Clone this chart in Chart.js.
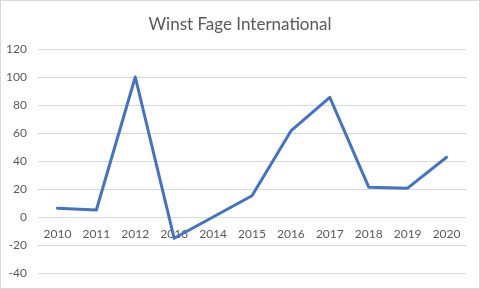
<!DOCTYPE html>
<html>
<head>
<meta charset="utf-8">
<script src="https://cdn.jsdelivr.net/npm/chart.js@4/dist/chart.umd.min.js"></script>
<style>
  html, body { margin: 0; padding: 0; background: #fff; }
  #wrap { width: 480px; height: 289px; position: relative; }
  canvas { display: block; }
</style>
</head>
<body>
<div id="wrap"><canvas id="c" width="480" height="289"></canvas></div>
<script>
const chartTitle = "Winst Fage International";
const years = ["2010","2011","2012","2013","2014","2015","2016","2017","2018","2019","2020"];
const profit = [6.3, 5, 100, -15.2, 0, 15.2, 61.5, 85.5, 21.3, 20.6, 42.7];
const yMin = -40, yMax = 120, yStep = 20;

const FONT = "Lato";
const borderPlugin = {
  id: 'outerBorder',
  afterDraw(chart) {
    const ctx = chart.ctx;
    ctx.save();
    ctx.strokeStyle = '#d9d9d9';
    ctx.lineWidth = 1;
    ctx.strokeRect(0.5, 0.5, chart.width - 1, chart.height - 1);
    ctx.restore();
  }
};

new Chart(document.getElementById('c'), {
  type: 'line',
  data: {
    labels: years,
    datasets: [{
      label: chartTitle,
      data: profit,
      borderColor: '#4472C4',
      borderWidth: 3,
      pointRadius: 0,
      tension: 0,
      fill: false,
      borderCapStyle: 'round',
      borderJoinStyle: 'round'
    }]
  },
  options: {
    responsive: false,
    animation: false,
    devicePixelRatio: 1,
    layout: { padding: { left: 0, right: 0, top: 0, bottom: 16 } },
    plugins: {
      legend: { display: false },
      tooltip: { enabled: false },
      title: {
        display: true,
        text: chartTitle,
        color: '#595959',
        font: { family: FONT, size: 17, weight: 'normal', lineHeight: 1.2 },
        padding: { top: 14, bottom: 14.6 }
      }
    },
    scales: {
      x: {
        position: { y: 0 },
        offset: true,
        grid: { display: false, drawTicks: false },
        border: { display: false },
        ticks: {
          color: '#595959',
          font: { family: FONT, size: 12 },
          padding: 10,
          maxRotation: 0,
          autoSkip: false
        },
        afterFit(scale) {
          scale.paddingRight = 14;
          scale.paddingLeft = 0;
        }
      },
      y: {
        min: yMin,
        max: yMax,
        grid: { color: '#d9d9d9', drawTicks: false, lineWidth: 1 },
        border: { display: false },
        ticks: {
          stepSize: yStep,
          color: '#595959',
          font: { family: FONT, size: 12 },
          padding: 11
        },
        afterFit(scale) {
          scale.width = 38;
          scale.paddingTop = 0;
          scale.paddingBottom = 0;
        }
      }
    }
  },
  plugins: [borderPlugin]
});
</script>
</body>
</html>
